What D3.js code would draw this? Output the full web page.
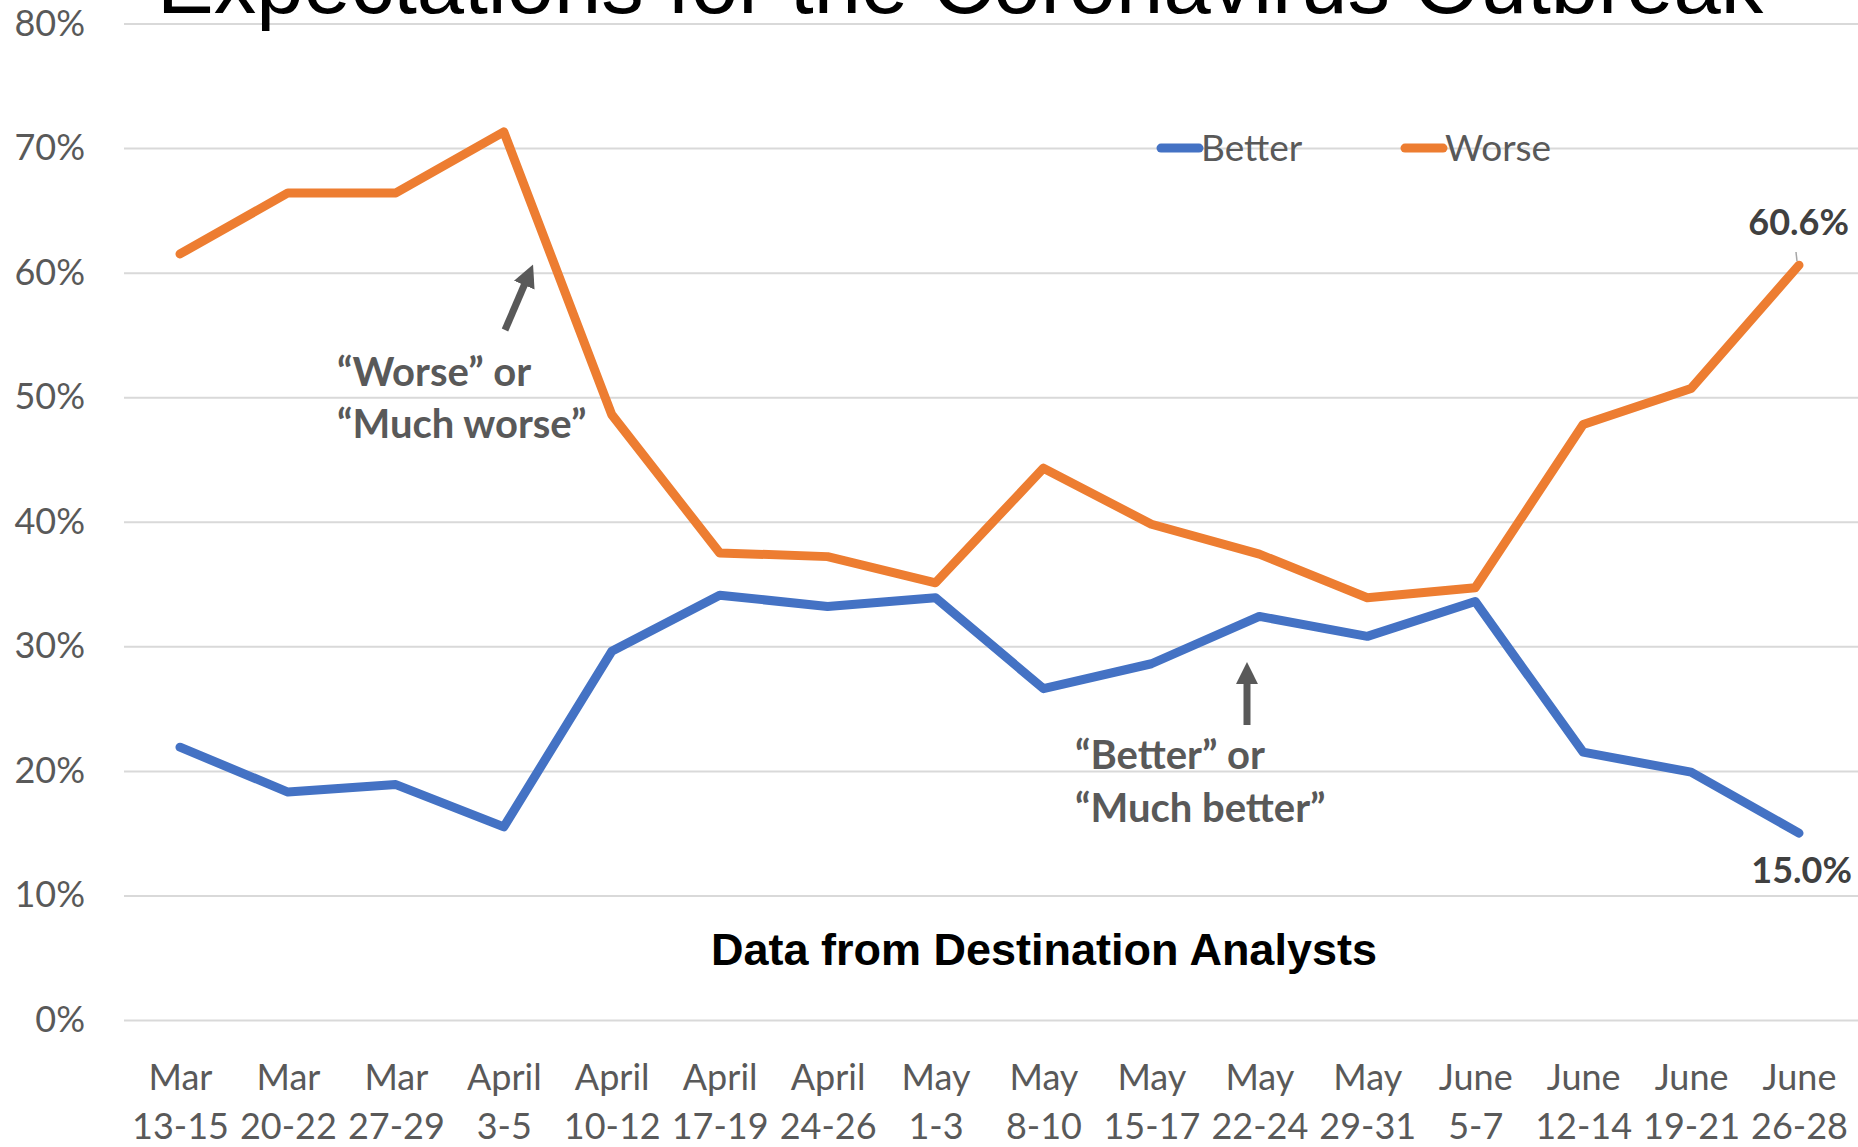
<!DOCTYPE html>
<html>
<head>
<meta charset="utf-8">
<script src="https://cdn.jsdelivr.net/npm/d3@7"></script>
<style>
  body { margin: 0; background: #fff; }
  svg { display: block; }
</style>
</head>
<body>
<div id="chart-area"></div>
<script>

var weeks = ["Mar 13-15", "Mar 20-22", "Mar 27-29", "April 3-5", "April 10-12", "April 17-19", "April 24-26",
             "May 1-3", "May 8-10", "May 15-17", "May 22-24", "May 29-31", "June 5-7", "June 12-14",
             "June 19-21", "June 26-28"];
var worse  = [61.5, 66.4, 66.4, 71.3, 48.6, 37.5, 37.2, 35.1, 44.3, 39.8, 37.4, 33.9, 34.7, 47.8, 50.7, 60.6];
var better = [21.9, 18.3, 18.9, 15.5, 29.6, 34.1, 33.2, 33.9, 26.6, 28.6, 32.4, 30.8, 33.6, 21.5, 19.9, 15.0];
var yTicks = [0, 10, 20, 30, 40, 50, 60, 70, 80];

var W = 1858, H = 1147;
var labelFont = "Lato, 'Open Sans', sans-serif";

var svg = d3.select("#chart-area")
    .append("svg")
        .attr("width", W)
        .attr("height", H);

var xScale = d3.scalePoint().domain(weeks).range([180, 1799]);
var yScale = d3.scaleLinear().domain([0, 80]).range([1020, 23.5]);

// gridlines + y labels
var yAxis = d3.axisLeft(yScale)
    .tickValues(yTicks)
    .tickSize(-(W - 124))
    .tickPadding(39)
    .tickFormat(function(d) { return d + "%"; });

var yAxisEl = svg.append("g")
    .attr("transform", "translate(124,0)")
    .call(yAxis);
yAxisEl.select(".domain").remove();
yAxisEl.selectAll("line").attr("stroke", "#d9d9d9").attr("stroke-width", 2);
yAxisEl.selectAll("text")
    .attr("fill", "#595959")
    .style("font-family", labelFont)
    .style("font-size", "36px");

// title, cut off at the top like the original
svg.append("text")
    .attr("x", 157)
    .attr("y", 13)
    .style("font-family", "'Liberation Sans', Arial, sans-serif")
    .style("font-size", "85px")
    .attr("fill", "#000")
    .text("Expectations for the Coronavirus Outbreak");

// x labels (two lines each)
var xAxis = d3.axisBottom(xScale).tickSize(0).tickPadding(0);
var xAxisEl = svg.append("g")
    .attr("transform", "translate(0,1060)")
    .call(xAxis);
xAxisEl.select(".domain").remove();
xAxisEl.selectAll("text")
    .attr("fill", "#595959")
    .attr("dy", null)
    .style("font-family", labelFont)
    .style("font-size", "36px")
    .text(null)
    .each(function(d) {
        var parts = d.split(" ");
        var t = d3.select(this);
        t.append("tspan").attr("x", 0).attr("y", 30).text(parts[0]);
        t.append("tspan").attr("x", 0).attr("y", 79).text(parts[1]);
    });

// lines
var line = d3.line()
    .x(function(d, i) { return xScale(weeks[i]); })
    .y(function(d) { return yScale(d); });

svg.append("path")
    .datum(better)
    .attr("d", line)
    .attr("fill", "none")
    .attr("stroke", "#4472C4")
    .attr("stroke-width", 9)
    .attr("stroke-linecap", "round")
    .attr("stroke-linejoin", "round");

svg.append("path")
    .datum(worse)
    .attr("d", line)
    .attr("fill", "none")
    .attr("stroke", "#ED7D31")
    .attr("stroke-width", 9)
    .attr("stroke-linecap", "round")
    .attr("stroke-linejoin", "round");

// legend
var legend = [{name: "Better", color: "#4472C4", x: 1161}, {name: "Worse", color: "#ED7D31", x: 1405}];
var lg = svg.selectAll(".legend").data(legend).enter().append("g")
    .attr("transform", function(d) { return "translate(" + d.x + "," + yScale(70) + ")"; });
lg.append("line")
    .attr("x1", 0).attr("x2", 38)
    .attr("stroke", function(d) { return d.color; })
    .attr("stroke-width", 9)
    .attr("stroke-linecap", "round");
lg.append("text")
    .attr("x", 40)
    .attr("y", 13)
    .attr("fill", "#595959")
    .style("font-family", labelFont)
    .style("font-size", "37px")
    .text(function(d) { return d.name; });

// end value labels
var last = weeks.length - 1;
svg.append("line")
    .attr("x1", xScale(weeks[last]) - 3).attr("y1", 252)
    .attr("x2", xScale(weeks[last]) - 2).attr("y2", yScale(worse[last]) - 4)
    .attr("stroke", "#a6a6a6").attr("stroke-width", 1.5);
svg.append("text")
    .attr("x", 1849).attr("y", 235)
    .attr("text-anchor", "end")
    .attr("fill", "#404040")
    .style("font-family", labelFont).style("font-size", "36px").style("font-weight", "bold")
    .text(worse[last].toFixed(1) + "%");
svg.append("text")
    .attr("x", 1852).attr("y", 883)
    .attr("text-anchor", "end")
    .attr("fill", "#404040")
    .style("font-family", labelFont).style("font-size", "36px").style("font-weight", "bold")
    .text(better[last].toFixed(1) + "%");

// annotations
svg.append("defs").append("marker")
    .attr("id", "head")
    .attr("viewBox", "0 0 10 10")
    .attr("refX", 2).attr("refY", 5)
    .attr("markerWidth", 3.2).attr("markerHeight", 3.2)
    .attr("markerUnits", "strokeWidth")
    .attr("orient", "auto")
    .append("path").attr("d", "M0,0 L10,5 L0,10 z").attr("fill", "#595959");

svg.append("line")
    .attr("x1", 505).attr("y1", 330).attr("x2", 526).attr("y2", 281)
    .attr("stroke", "#595959").attr("stroke-width", 7)
    .attr("marker-end", "url(#head)");
svg.append("line")
    .attr("x1", 1247).attr("y1", 725).attr("x2", 1247).attr("y2", 680)
    .attr("stroke", "#595959").attr("stroke-width", 7)
    .attr("marker-end", "url(#head)");

var notes = [
    {x: 337, y: 386, text: "\u201cWorse\u201d or"},
    {x: 337, y: 438, text: "\u201cMuch worse\u201d"},
    {x: 1075, y: 769, text: "\u201cBetter\u201d or"},
    {x: 1075, y: 822, text: "\u201cMuch better\u201d"}
];
svg.selectAll(".note").data(notes).enter().append("text")
    .attr("x", function(d) { return d.x; })
    .attr("y", function(d) { return d.y; })
    .attr("fill", "#595959")
    .style("font-family", labelFont).style("font-size", "40px").style("font-weight", "bold")
    .text(function(d) { return d.text; });

svg.append("text")
    .attr("x", 1044).attr("y", 965)
    .attr("text-anchor", "middle")
    .attr("fill", "#000")
    .style("font-family", "'Liberation Sans', Arial, sans-serif")
    .style("font-size", "45px").style("font-weight", "bold")
    .text("Data from Destination Analysts");

</script>
</body>
</html>
